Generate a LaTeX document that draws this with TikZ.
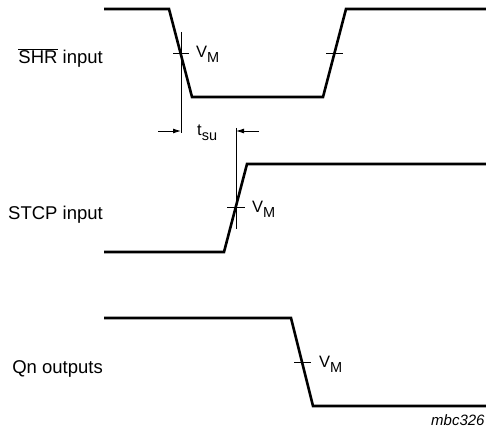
\documentclass[tikz,border=0pt]{standalone}
\usepackage{fontspec}
\setmainfont{Liberation Sans}
\usetikzlibrary{arrows.meta}
\newcommand{\vmlabel}{\fontsize{16.5}{16.5}\selectfont V\raisebox{-5pt}{\fontsize{14.5}{14.5}\selectfont M}}
\begin{document}
\begin{tikzpicture}[x=1pt,y=-1pt,
  signal/.style={line width=2.6pt,line join=miter},
  thin/.style={line width=0.9pt},
  lbl/.style={inner sep=0pt,font=\fontsize{18.5}{18.5}\selectfont},
  vm/.style={inner sep=0pt,anchor=base west},
  arr/.style={thin,-{Latex[length=8pt,width=5pt]}}]
\useasboundingbox (0,0) rectangle (486,430);
% SHR waveform
\coordinate (s0) at (104,9);
\coordinate (s1) at (169,9);
\coordinate (s2) at (192,97);
\coordinate (s3) at (323,97);
\coordinate (s4) at (346,9);
\coordinate (s5) at (487,9);
\draw[signal] (s0) -- (s1) -- (s2) -- (s3) -- (s4) -- (s5);
% STCP waveform
\coordinate (c0) at (104,252);
\coordinate (c1) at (224,252);
\coordinate (c2) at (247,164);
\coordinate (c3) at (487,164);
\draw[signal] (c0) -- (c1) -- (c2) -- (c3);
% Qn waveform
\coordinate (q0) at (104,318);
\coordinate (q1) at (291,318);
\coordinate (q2) at (313,406);
\coordinate (q3) at (487,406);
\draw[signal] (q0) -- (q1) -- (q2) -- (q3);
% VM ticks
\coordinate (t1a) at (173,53); \coordinate (t1b) at (189,53);
\coordinate (t2a) at (326,53); \coordinate (t2b) at (343,53);
\coordinate (t3a) at (227,207); \coordinate (t3b) at (245,207);
\coordinate (t4a) at (294,362); \coordinate (t4b) at (311,362);
\draw[thin] (t1a) -- (t1b);
\draw[thin] (t2a) -- (t2b);
\draw[thin] (t3a) -- (t3b);
\draw[thin] (t4a) -- (t4b);
% reference verticals
\coordinate (v1a) at (181,32); \coordinate (v1b) at (181,133);
\coordinate (v2a) at (236,128); \coordinate (v2b) at (236,229);
\draw[thin] (v1a) -- (v1b);
\draw[thin] (v2a) -- (v2b);
% tsu arrows
\coordinate (a1s) at (158,131); \coordinate (a1e) at (181,131);
\coordinate (a2s) at (259,131); \coordinate (a2e) at (236,131);
\draw[arr] (a1s) -- (a1e);
\draw[arr] (a2s) -- (a2e);
% labels
\node[lbl,anchor=base east] (lshr) at (103,64) {$\overline{\mbox{SHR}}$ input};
\node[lbl,anchor=base east] (lstcp) at (103,219) {STCP input};
\node[lbl,anchor=base east] (lqn) at (103,373) {Qn outputs};
\node[vm] (vm1) at (196,58) {\vmlabel};
\node[vm] (vm2) at (252,212) {\vmlabel};
\node[vm] (vm3) at (319,367) {\vmlabel};
\node[vm] (tsu) at (197,136) {\fontsize{16.5}{16.5}\selectfont t\raisebox{-4.5pt}{\fontsize{14.5}{14.5}\selectfont su}};
\node[inner sep=0pt,anchor=base west,font=\fontsize{15}{15}\selectfont\itshape] (ref) at (431,425) {mbc326};
\end{tikzpicture}
\end{document}
